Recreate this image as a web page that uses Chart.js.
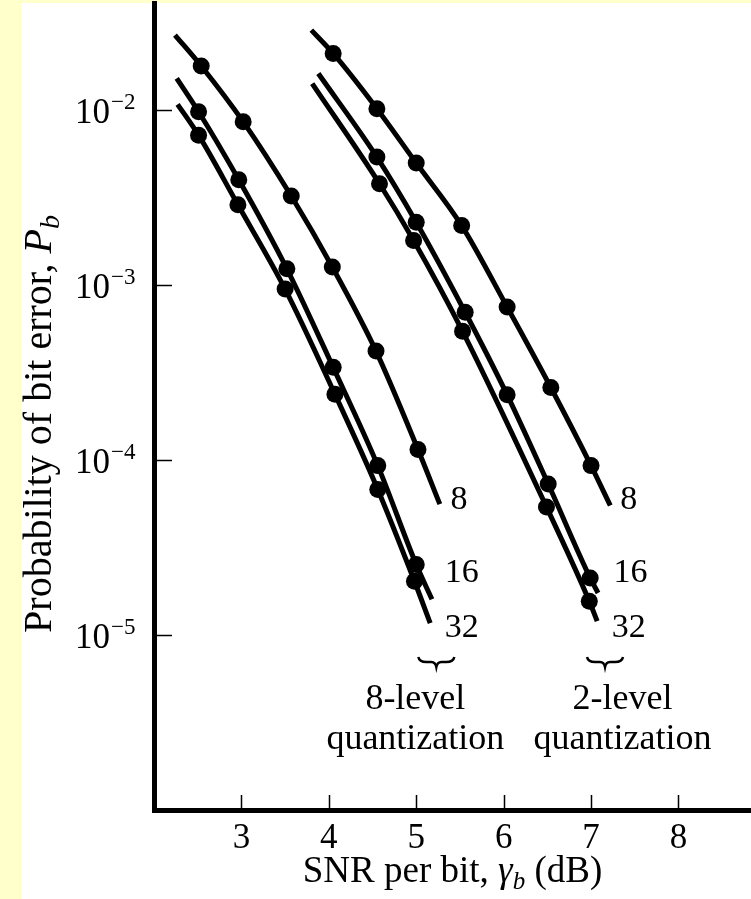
<!DOCTYPE html>
<html>
<head>
<meta charset="utf-8">
<title>Bit error probability vs SNR</title>
<script src="https://cdn.jsdelivr.net/npm/chart.js@4.4.0/dist/chart.umd.min.js"></script>
<style>
  html, body { margin: 0; padding: 0; background: #ffffcc; }
  canvas { display: block; }
</style>
</head>
<body>
<canvas id="berChart" width="751" height="899"></canvas>
<script>
// values. first/last entry of each curve = where the line
// starts / stops (no dot there), the rest are the measured points.
const snr8lvl8 = [2.24, 2.54, 3.02, 3.57, 4.04, 4.54, 5.02, 5.27];
const pb8lvl8 = [2.69e-2, 1.79e-2, 8.6e-3, 3.23e-3, 1.27e-3, 4.2e-4, 1.15e-4, 5.6e-5];

const snr8lvl16 = [2.26, 2.51, 2.97, 3.52, 4.05, 4.56, 5.00, 5.18];
const pb8lvl16 = [1.52e-2, 9.8e-3, 4.0e-3, 1.24e-3, 3.39e-4, 9.3e-5, 2.53e-5, 1.6e-5];

const snr8lvl32 = [2.27, 2.51, 2.96, 3.50, 4.07, 4.56, 4.98, 5.16];
const pb8lvl32 = [1.08e-2, 7.2e-3, 2.88e-3, 9.5e-4, 2.38e-4, 6.8e-5, 2.03e-5, 1.17e-5];

const snr2lvl8 = [3.80, 4.05, 4.55, 5.00, 5.52, 6.04, 6.54, 7.00, 7.22];
const pb2lvl8 = [2.87e-2, 2.11e-2, 1.02e-2, 4.99e-3, 2.19e-3, 7.5e-4, 2.6e-4, 9.3e-5, 5.5e-5];

const snr2lvl16 = [3.88, 4.55, 5.00, 5.56, 6.04, 6.51, 6.99, 7.08];
const pb2lvl16 = [1.62e-2, 5.4e-3, 2.29e-3, 7.0e-4, 2.36e-4, 7.3e-5, 2.12e-5, 1.74e-5];

const snr2lvl32 = [3.81, 4.58, 4.97, 5.53, 6.49, 6.98, 7.07];
const pb2lvl32 = [1.42e-2, 3.8e-3, 1.8e-3, 5.45e-4, 5.4e-5, 1.56e-5, 1.2e-5];

const xTicks = [3, 4, 5, 6, 7, 8];
const yTickExps = [-2, -3, -4, -5];

// curve labels next to the line ends: text, snr, pb
const curveLabels = [
  ["8", 5.49, 5.9e-5], ["16", 5.52, 2.26e-5], ["32", 5.52, 1.09e-5],
  ["8", 7.43, 5.9e-5], ["16", 7.45, 2.26e-5], ["32", 7.43, 1.09e-5],
];
// group captions under the braces
const groups = [
  { brace: 5.23, center: 4.99, lines: ["8-level", "quantization"] },
  { brace: 7.16, center: 7.36, lines: ["2-level", "quantization"] },
];

const SERIF = '"Liberation Serif", "Times New Roman", serif';

function curve(xs, ps) {
  return {
    data: xs.map((x, i) => ({ x: x, y: ps[i] })),
    borderColor: "#000",
    borderWidth: 5,
    backgroundColor: "#000",
    pointBackgroundColor: "#000",
    pointBorderWidth: 0,
    pointRadius: xs.map((x, i) => (i === 0 || i === xs.length - 1 ? 0 : 8.5)),
    cubicInterpolationMode: "monotone",
    fill: false,
  };
}

function drawRuns(ctx, runs, cx, baseline) {
  let total = 0;
  runs.forEach(r => { ctx.font = r.font; r.w = ctx.measureText(r.t).width; total += r.w; });
  let x = cx - total / 2;
  runs.forEach(r => {
    ctx.font = r.font;
    ctx.fillText(r.t, x, baseline + (r.dy || 0));
    x += r.w;
  });
}

const decor = {
  id: "decor",
  beforeDraw(chart) {
    const { ctx, width, height } = chart;
    ctx.save();
    ctx.fillStyle = "#ffffcc";
    ctx.fillRect(0, 0, width, height);
    ctx.fillStyle = "#ffffff";
    ctx.fillRect(21, 3, width - 21, height - 3);
    ctx.restore();
  },
  afterDraw(chart) {
    const { ctx, chartArea } = chart;
    const xs = chart.scales.x;
    const ys = chart.scales.y;
    ctx.save();
    ctx.strokeStyle = "#000";
    ctx.fillStyle = "#000";
    ctx.lineWidth = 1.5;

    // tick marks point into the plot
    ctx.beginPath();
    xTicks.forEach(v => {
      const px = Math.round(xs.getPixelForValue(v)) + 0.5;
      ctx.moveTo(px, chartArea.bottom);
      ctx.lineTo(px, chartArea.bottom - 15);
    });
    yTickExps.forEach(e => {
      const py = Math.round(ys.getPixelForValue(Math.pow(10, e))) + 0.5;
      ctx.moveTo(chartArea.left, py);
      ctx.lineTo(chartArea.left + 18, py);
    });
    ctx.stroke();

    // tick labels
    ctx.textBaseline = "alphabetic";
    ctx.textAlign = "center";
    ctx.font = "35px " + SERIF;
    xTicks.forEach(v => {
      ctx.fillText(String(v), xs.getPixelForValue(v), chartArea.bottom + 38);
    });
    yTickExps.forEach(e => {
      const py = ys.getPixelForValue(Math.pow(10, e));
      ctx.textAlign = "right";
      ctx.font = "35px " + SERIF;
      ctx.fillText("10", chartArea.left - 44, py + 13);
      ctx.textAlign = "left";
      ctx.font = "23px " + SERIF;
      ctx.fillText("\u2212" + Math.abs(e), chartArea.left - 43, py - 1);
    });

    // axis titles
    ctx.textAlign = "left";
    drawRuns(ctx, [
      { t: "SNR per bit, ", font: "37px " + SERIF },
      { t: "\u03b3", font: "italic 37px " + SERIF },
      { t: "b", font: "italic 25px " + SERIF, dy: 7 },
      { t: " (dB)", font: "37px " + SERIF },
    ], (chartArea.left + chartArea.right) / 2, chartArea.bottom + 72);

    ctx.save();
    ctx.translate(51, 424);
    ctx.rotate(-Math.PI / 2);
    drawRuns(ctx, [
      { t: "Probability of bit error, ", font: "40px " + SERIF },
      { t: "P", font: "italic 40px " + SERIF },
      { t: "b", font: "italic 28px " + SERIF, dy: 8 },
    ], 0, 0);
    ctx.restore();

    // curve labels
    ctx.textAlign = "center";
    ctx.textBaseline = "middle";
    ctx.font = "34px " + SERIF;
    curveLabels.forEach(([t, x, p]) => {
      ctx.fillText(t, xs.getPixelForValue(x), ys.getPixelForValue(p));
    });

    // braces and captions
    ctx.textBaseline = "alphabetic";
    ctx.lineWidth = 2.5;
    groups.forEach(g => {
      const cx = xs.getPixelForValue(g.brace);
      const y0 = ys.getPixelForValue(7.5e-6);
      ctx.beginPath();
      ctx.moveTo(cx - 18, y0);
      ctx.quadraticCurveTo(cx - 17, y0 + 5, cx - 10, y0 + 5);
      ctx.lineTo(cx - 5, y0 + 5);
      ctx.quadraticCurveTo(cx - 1, y0 + 5, cx, y0 + 10);
      ctx.quadraticCurveTo(cx + 1, y0 + 5, cx + 5, y0 + 5);
      ctx.lineTo(cx + 10, y0 + 5);
      ctx.quadraticCurveTo(cx + 17, y0 + 5, cx + 18, y0);
      ctx.stroke();

      const tx = xs.getPixelForValue(g.center);
      ctx.font = "36px " + SERIF;
      ctx.fillText(g.lines[0], tx, ys.getPixelForValue(3.79e-6));
      ctx.fillText(g.lines[1], tx, ys.getPixelForValue(2.22e-6));
    });
    ctx.restore();
  },
};

new Chart(document.getElementById("berChart").getContext("2d"), {
  type: "line",
  data: {
    datasets: [
      curve(snr8lvl8, pb8lvl8),
      curve(snr8lvl16, pb8lvl16),
      curve(snr8lvl32, pb8lvl32),
      curve(snr2lvl8, pb2lvl8),
      curve(snr2lvl16, pb2lvl16),
      curve(snr2lvl32, pb2lvl32),
    ],
  },
  options: {
    responsive: false,
    animation: false,
    layout: { padding: { left: 0, right: 0, top: 3, bottom: 0 } },
    plugins: { legend: { display: false }, tooltip: { enabled: false } },
    scales: {
      x: {
        type: "linear",
        min: 2,
        max: 8.83,
        grid: { display: false },
        border: { display: true, color: "#000", width: 5 },
        ticks: { display: false },
        afterBuildTicks: s => { s.ticks = xTicks.map(v => ({ value: v })); },
        afterFit: s => { s.height = 89; },
      },
      y: {
        type: "logarithmic",
        min: 1e-6,
        max: 0.041,
        grid: { display: false },
        border: { display: true, color: "#000", width: 5 },
        ticks: { display: false },
        afterBuildTicks: s => { s.ticks = yTickExps.map(e => ({ value: Math.pow(10, e) })); },
        afterFit: s => { s.width = 154; },
      },
    },
  },
  plugins: [decor],
});
</script>
</body>
</html>
